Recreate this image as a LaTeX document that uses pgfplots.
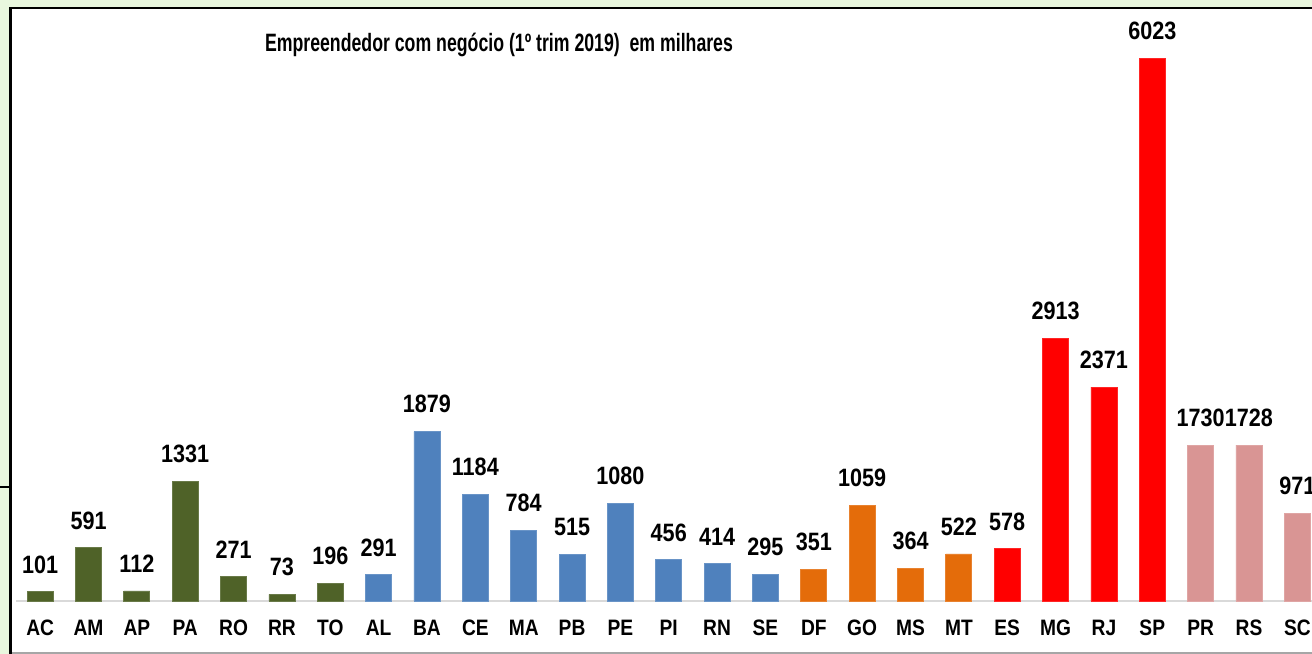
\documentclass[border=0pt]{standalone}
\usepackage{fontspec}
\setmainfont{Liberation Sans}[FakeStretch=0.86]
\usepackage{pgfplots}
\usepackage{graphicx}
\pgfplotsset{compat=1.18}
\definecolor{bggreen}{RGB}{233,247,222}
\definecolor{cgreen}{RGB}{79,98,40}
\definecolor{cblue}{RGB}{79,129,189}
\definecolor{corange}{RGB}{228,108,10}
\definecolor{cred}{RGB}{255,0,0}
\definecolor{cpink}{RGB}{217,149,148}
\begin{document}
\begin{tikzpicture}
\useasboundingbox (0bp,0bp) rectangle (656bp,327bp);
\clip (0bp,0bp) rectangle (656bp,327bp);
\fill[bggreen] (0bp,0bp) rectangle (656bp,327bp);
\fill[white] (5.25bp,0bp) rectangle (660bp,322.85bp);
\draw[black, line width=1.1bp] (0bp,83.5bp) -- (5.25bp,83.5bp);
\draw[gray!70, line width=1bp] (5.25bp,0.6bp) -- (660bp,0.6bp);
\draw[black, line width=1.2bp] (5.25bp,0bp) -- (5.25bp,322.85bp) -- (660bp,322.85bp);
\node[anchor=base, inner sep=0pt, font=\fontsize{12.6}{14}\selectfont\bfseries] at (249.5bp,301bp) {\scalebox{0.82}[1]{Empreendedor com negócio (1º trim 2019)\ \ em milhares}};
\begin{axis}[
  at={(8bp,26.5bp)}, anchor=south west,
  scale only axis, width=652.75bp, height=293bp,
  xmin=-0.5, xmax=26.5, ymin=0, ymax=6500,
  axis line style={draw=none},
  ytick=\empty,
  xtick={0,...,26},
  xticklabels={AC,AM,AP,PA,RO,RR,TO,AL,BA,CE,MA,PB,PE,PI,RN,SE,DF,GO,MS,MT,ES,MG,RJ,SP,PR,RS,SC},
  major tick length=0pt,
  xticklabel style={anchor=base, yshift=-17bp, inner sep=0pt, font=\fontsize{11.2}{13}\selectfont\bfseries},
  ybar, bar width=13bp, bar shift=0pt,
  clip=false,
  /pgf/number format/.cd, 1000 sep={}, assume math mode=true, /pgfplots/.cd,
  nodes near coords,
  nodes near coords style={anchor=south, inner sep=0pt, yshift=9bp, font=\fontsize{12.6}{14}\selectfont\bfseries, text=black},
]
\draw[black!15, line width=0.8bp] (axis cs:-0.5,0) -- (axis cs:26.5,0);
\addplot[fill=cgreen, draw=cgreen!85!white] coordinates {(0,101) (1,591) (2,112) (3,1331) (4,271) (5,73) (6,196)};
\addplot[fill=cblue, draw=cblue!85!white] coordinates {(7,291) (8,1879) (9,1184) (10,784) (11,515) (12,1080) (13,456) (14,414) (15,295)};
\addplot[fill=corange, draw=corange!85!white] coordinates {(16,351) (17,1059) (18,364) (19,522)};
\addplot[fill=cred, draw=cred!85!white] coordinates {(20,578) (21,2913) (22,2371) (23,6023)};
\addplot[fill=cpink, draw=cpink!85!white] coordinates {(24,1730) (25,1728) (26,971)};
\end{axis}
\end{tikzpicture}
\end{document}
